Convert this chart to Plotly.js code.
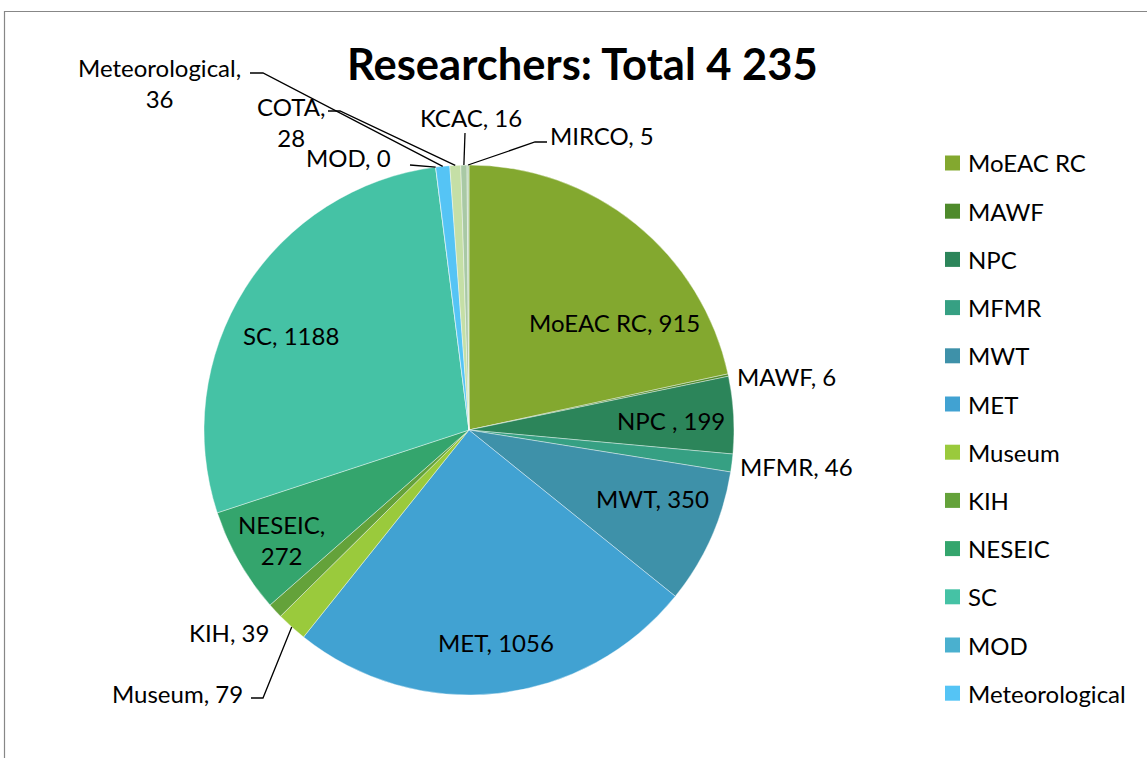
<!DOCTYPE html>
<html>
<head>
<meta charset="utf-8">
<script src="https://cdn.plot.ly/plotly-3.0.1.min.js"></script>
<style>html,body{margin:0;padding:0;background:#fff;}#chart{width:1147px;height:758px;}</style>
</head>
<body>
<div id="chart"></div>
<script>
// ---- data ----
const labels = ["MoEAC RC","MAWF","NPC ","MFMR","MWT","MET","Museum","KIH","NESEIC","SC","MOD","Meteorological","COTA","KCAC","MIRCO"];
const values = [915, 6, 199, 46, 350, 1056, 79, 39, 272, 1188, 0, 36, 28, 16, 5];
const colors = ["#83A82F","#4E8A2B","#2C855A","#36A083","#3E91A9","#41A2D2","#9ACA3C","#64A23A","#34A56D","#45C2A5","#4AB0CF","#55C4F5","#C5DFA6","#A9C9A5","#B9D3B4"];
const legendCount = 12; // legend in reference shows first 12 entries
const titleText = "Researchers: Total 4 235";

// ---- layout helpers (pixel -> paper) ----
const W = 1147, H = 758;
const X = x => x / W, Y = y => 1 - y / H;
const cx = 469, cy = 430, R = 265;
const total = values.reduce((a, b) => a + b, 0);
function rimPoint(i) {
  let before = 0;
  for (let k = 0; k < i; k++) before += values[k];
  const a = (before + values[i] / 2) / total * 2 * Math.PI;
  return [cx + R * Math.sin(a), cy - R * Math.cos(a)];
}

// label placement: [x, y, anchor, leader points, two-line]
const labelPos = {
  0: [614, 322, "center"],
  1: [735, 376, "left"],
  2: [671, 420, "center"],
  3: [738, 466, "left"],
  4: [653, 498, "center"],
  5: [496, 642, "center"],
  6: [245, 693, "right", [[251, 698], [263, 698]]],
  7: [271, 632, "right"],
  8: [281, 540, "center", null, true],
  9: [291, 335, "center"],
  10: [393, 158, "right", [[410, 165]]],
  11: [159, 83, "center", [[250, 73], [263, 73]], true],
  12: [291, 122, "center", [[328, 111], [340, 111]], true],
  13: [471, 117, "center", [[465, 133]]],
  14: [548, 135, "left", [[547, 142], [535, 142]]]
};

const font = "Lato, 'Open Sans', sans-serif";
const fs = 24;
const annotations = [];
const shapes = [];

// title
annotations.push({text: "<b>" + titleText + "</b>", x: X(583), y: Y(63), xref: "paper", yref: "paper",
  xanchor: "center", yanchor: "middle", showarrow: false, font: {family: font, size: 43.5, color: "#000"}});

labels.forEach((lab, i) => {
  const p = labelPos[i];
  const txt = p[4] ? lab.trim() + ",<br>" + values[i] : lab + ", " + values[i];
  annotations.push({text: txt, x: X(p[0]), y: Y(p[1]), xref: "paper", yref: "paper",
    xanchor: p[2], yanchor: "middle", align: "center", showarrow: false,
    font: {family: font, size: fs, color: "#000"}});
  if (p[3]) {
    const pts = p[3].concat([rimPoint(i)]);
    let d = "";
    pts.forEach((q, k) => { d += (k ? " L " : "M ") + X(q[0]) + " " + Y(q[1]); });
    shapes.push({type: "path", xref: "paper", yref: "paper", path: d, line: {color: "#000", width: 1.3}});
  }
});

// legend (first 12 entries as in the reference)
for (let i = 0; i < legendCount; i++) {
  const yc = 163 + i * 48.2;
  shapes.push({type: "rect", xref: "paper", yref: "paper", x0: X(945), x1: X(960), y0: Y(yc - 7.5), y1: Y(yc + 7.5),
    fillcolor: colors[i], line: {width: 0}});
  annotations.push({text: labels[i].trim(), x: X(966), y: Y(yc), xref: "paper", yref: "paper",
    xanchor: "left", yanchor: "middle", showarrow: false, font: {family: font, size: fs, color: "#000"}});
}

// chart frame
shapes.push({type: "path", xref: "paper", yref: "paper",
  path: `M ${X(4.5)} ${Y(760)} L ${X(4.5)} ${Y(11.5)} L ${X(1150)} ${Y(11.5)}`,
  line: {color: "#878787", width: 1.2}});

const trace = {
  type: "pie", labels: labels, values: values, sort: false, direction: "clockwise", rotation: 0,
  marker: {colors: colors, line: {color: "#ffffff", width: 0.4}},
  textinfo: "none", hoverinfo: "label+value", showlegend: false,
  domain: {x: [X(cx - R), X(cx + R)], y: [Y(cy + R), Y(cy - R)]}
};

Plotly.newPlot("chart", [trace], {
  width: W, height: H, margin: {l: 0, r: 0, t: 0, b: 0},
  paper_bgcolor: "#fff", plot_bgcolor: "#fff", showlegend: false,
  annotations: annotations, shapes: shapes
}, {staticPlot: true});
</script>
</body>
</html>
